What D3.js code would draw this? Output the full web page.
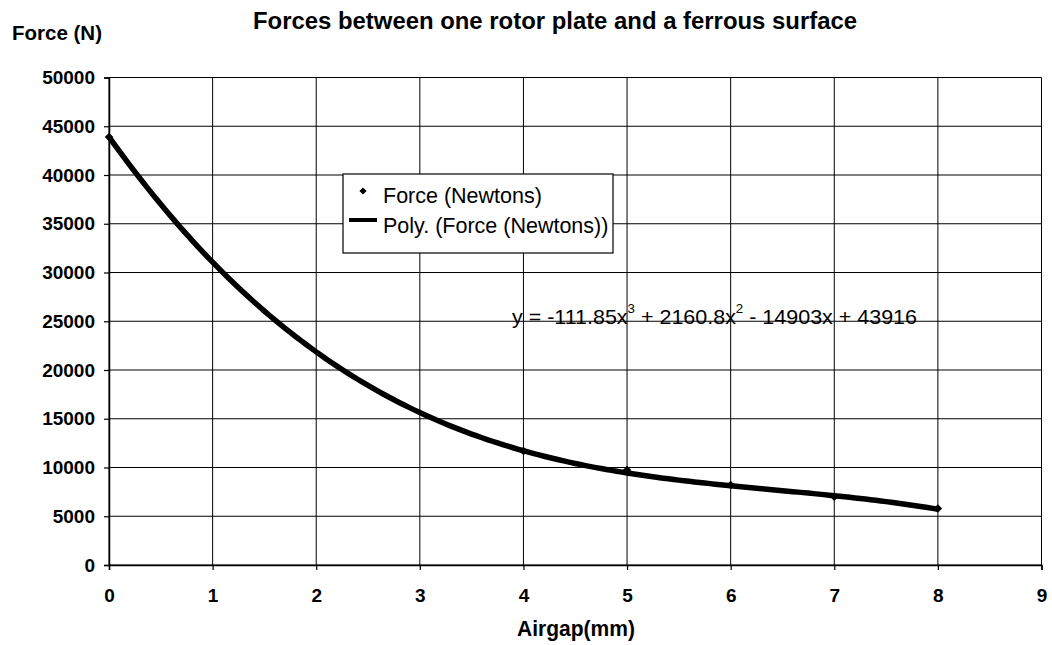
<!DOCTYPE html>
<html><head><meta charset="utf-8">
<script src="https://cdn.jsdelivr.net/npm/d3@7"></script>
<style>
body{margin:0;background:#fff;}
svg{display:block;font-family:"Liberation Sans",Arial,sans-serif;}
</style></head><body>
<svg id="chart" width="1052" height="645"></svg>
<script>
const airgap = [0, 4, 5, 6, 7, 8];
const force = [43900, 11700, 9750, 8200, 7000, 5800];
const polyCoeffs = [43916, -14903, 2160.8, -111.85]; // c0 + c1 x + c2 x^2 + c3 x^3
const xTicks = [0,1,2,3,4,5,6,7,8,9];
const yTicks = [0,5000,10000,15000,20000,25000,30000,35000,40000,45000,50000];
const titleText = "Forces between one rotor plate and a ferrous surface";
const yTitle = "Force (N)";
const xTitle = "Airgap(mm)";
const legendLabels = ["Force (Newtons)", "Poly. (Force (Newtons))"];

const svg = d3.select("#chart");
const L = 109, R = 1041.5, T = 77.5, B = 565;
const x = d3.scaleLinear().domain([0, 9]).range([L, R]);
const y = d3.scaleLinear().domain([0, 50000]).range([B, T]);

function fit(sel, w) {
  sel.each(function() { this.setAttribute("textLength", w); this.setAttribute("lengthAdjust", "spacingAndGlyphs"); });
  return sel;
}

// grid
const g = svg.append("g");
g.selectAll(".hg").data(yTicks).join("line")
  .attr("x1", L).attr("x2", R).attr("y1", d => y(d)).attr("y2", d => y(d))
  .attr("stroke", "#000").attr("stroke-width", 1);
g.selectAll(".vg").data(xTicks).join("line")
  .attr("y1", T).attr("y2", B).attr("x1", d => x(d)).attr("x2", d => x(d))
  .attr("stroke", "#000").attr("stroke-width", 1);

// axes
const xAxis = d3.axisBottom(x).tickValues(xTicks).tickSize(5).tickPadding(19).tickFormat(d3.format("d"));
const yAxis = d3.axisLeft(y).tickValues(yTicks).tickSize(5).tickPadding(9).tickFormat(d3.format("d"));
const gx = svg.append("g").attr("transform", `translate(0,${B})`).call(xAxis);
const gy = svg.append("g").attr("transform", `translate(${L},0)`).call(yAxis);
[gx, gy].forEach(a => {
  a.select(".domain").attr("stroke", "#000").attr("stroke-width", 1.5);
  a.selectAll(".tick line").attr("stroke", "#000").attr("stroke-width", 1.2);
  a.selectAll("text").attr("fill", "#000").attr("font-size", 19).attr("font-weight", "bold")
    .attr("font-family", "'Liberation Sans', Arial, sans-serif");
});

// trendline from displayed equation
const polyF = t => polyCoeffs.reduce((s, c, i) => s + c * Math.pow(t, i), 0);
const trendX = d3.range(0, 8.0001, 0.05);
svg.append("path")
  .datum(trendX)
  .attr("d", d3.line().x(d => x(d)).y(d => y(polyF(d))))
  .attr("fill", "none").attr("stroke", "#000").attr("stroke-width", 5.5).attr("stroke-linejoin","round");

// markers (square rotated 45deg)
const diamond = d3.symbol().type(d3.symbolSquare).size(36);
svg.selectAll(".pt").data(airgap.map((a, i) => [a, force[i]])).join("path")
  .attr("d", diamond).attr("transform", d => `translate(${x(d[0])},${y(d[1])}) rotate(45)`)
  .attr("fill", "#000");

// legend
const lg = svg.append("g");
lg.append("rect").attr("x", 343).attr("y", 174).attr("width", 270).attr("height", 79)
  .attr("fill", "#fff").attr("stroke", "#000").attr("stroke-width", 1.2);
lg.append("path").attr("d", d3.symbol().type(d3.symbolSquare).size(26))
  .attr("transform", "translate(363,191) rotate(45)").attr("fill", "#000");
lg.append("line").attr("x1", 349).attr("x2", 377).attr("y1", 220).attr("y2", 220)
  .attr("stroke", "#000").attr("stroke-width", 4);
lg.selectAll(".lt").data(legendLabels).join("text")
  .attr("x", 383).attr("y", (d, i) => 203 + i * 30)
  .attr("font-size", 21.5).attr("fill", "#000").text(d => d);

// equation
const eq = svg.append("text").attr("x", 512).attr("y", 324).attr("font-size", 21).attr("fill", "#000");
eq.append("tspan").text("y = -111.85x");
eq.append("tspan").attr("dy", -11).attr("font-size", 13).text("3");
eq.append("tspan").attr("dy", 11).text(" + 2160.8x");
eq.append("tspan").attr("dy", -11).attr("font-size", 13).text("2");
eq.append("tspan").attr("dy", 11).text(" - 14903x + 43916");
fit(eq, 405);

// titles
fit(svg.append("text").attr("x", 253).attr("y", 29)
  .attr("font-size", 23.5).attr("font-weight", "bold").text(titleText), 604);
fit(svg.append("text").attr("x", 12).attr("y", 40)
  .attr("font-size", 20).attr("font-weight", "bold").text(yTitle), 90);
fit(svg.append("text").attr("x", 517).attr("y", 636)
  .attr("font-size", 21.5).attr("font-weight", "bold").text(xTitle), 118);
</script>
</body></html>
